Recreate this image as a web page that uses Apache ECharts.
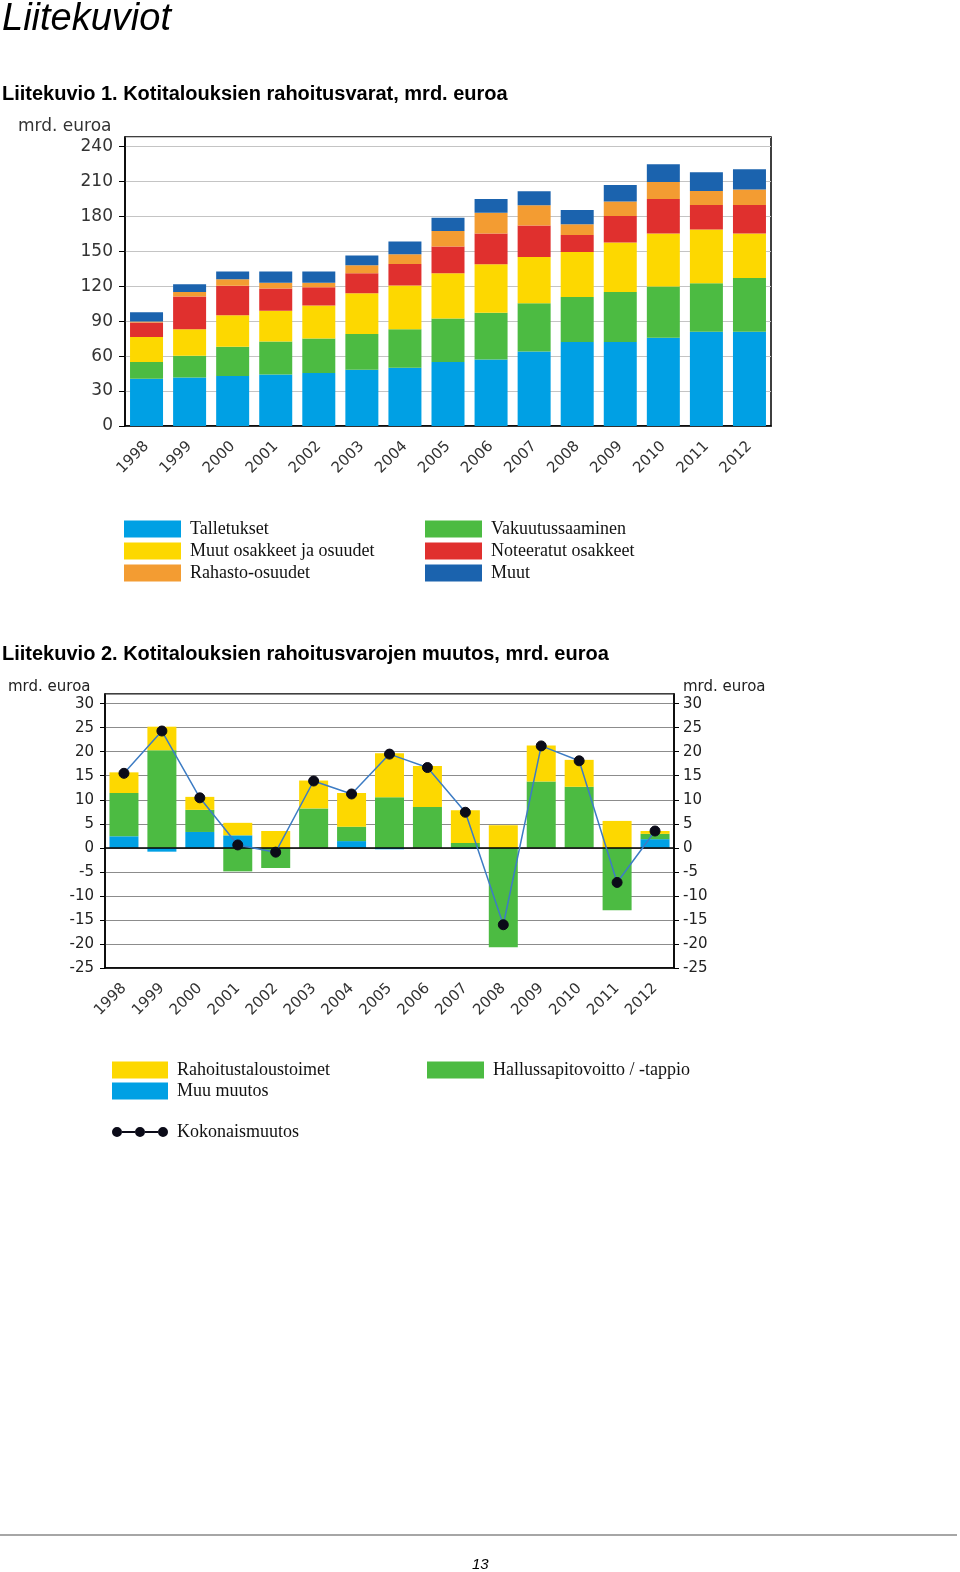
<!DOCTYPE html>
<html>
<head>
<meta charset="utf-8">
<script src="https://cdn.jsdelivr.net/npm/echarts@6/dist/echarts.min.js"></script>
<style>
html,body{margin:0;padding:0;background:#fff;}
#main{width:960px;height:1572px;}
</style>
</head>
<body>
<div id="main"></div>
<script>
// ---- Chart 1: Kotitalouksien rahoitusvarat, mrd. euroa ----
const years = ['1998','1999','2000','2001','2002','2003','2004','2005','2006','2007','2008','2009','2010','2011','2012'];
const talletukset   = [40.6, 41.7, 42.9, 44.3, 45.4, 48.3, 50.0, 54.9, 57.1, 64.0, 72.0, 72.0, 75.7, 80.9, 80.9];
const vakuutus      = [14.3, 18.6, 25.1, 28.3, 29.7, 30.6, 33.1, 37.4, 40.0, 41.4, 38.6, 42.9, 44.0, 41.7, 46.0];
const muutOsakkeet  = [21.4, 22.8, 27.1, 26.3, 28.3, 35.1, 37.5, 38.8, 41.8, 39.7, 38.8, 42.5, 45.4, 46.0, 38.2];
const noteeratut    = [12.6, 28.0, 25.2, 19.1, 15.7, 17.1, 18.5, 22.9, 26.2, 26.9, 14.6, 22.9, 29.8, 21.1, 24.6];
const rahasto       = [0.8, 3.8, 5.7, 4.9, 3.8, 6.9, 8.3, 13.4, 17.8, 17.4, 9.1, 12.3, 14.5, 12.0, 13.2];
const muut          = [8.0, 6.8, 6.6, 9.7, 9.7, 8.3, 10.9, 11.2, 12.0, 12.0, 12.3, 14.3, 15.2, 16.0, 17.4];

// ---- Chart 2: Kotitalouksien rahoitusvarojen muutos, mrd. euroa ----
const muuMuutos     = [2.4, -0.8, 3.3, 2.6, 0.0, 0.0, 1.4, -0.3, 0.0, -0.2, 0.0, 0.0, 0.0, 0.0, 1.8];
const hallussapito  = [9.0, 20.3, 4.6, -4.9, -4.2, 8.2, 3.0, 10.5, 8.5, 1.0, -20.7, 13.8, 12.7, -13.0, 1.1];
const rahoitustoimet= [4.3, 4.9, 2.7, 2.6, 3.5, 5.8, 7.0, 9.2, 8.5, 6.8, 4.7, 7.5, 5.6, 5.6, 0.6];
const kokonais      = [15.5, 24.3, 10.4, 0.6, -0.9, 13.9, 11.2, 19.5, 16.7, 7.4, -16.0, 21.2, 18.1, -7.2, 3.5];

const ticks1 = {min: 0, max: 248, interval: 30};
const ticks2 = {min: -25, max: 32, interval: 5};

const C = {
  blue: '#00a0e4', green: '#4cbb42', yellow: '#fdd800',
  red: '#e0302e', orange: '#f39c32', navy: '#1b63ae'
};

const axisFont = 'DejaVu Sans';
const legendFont = 'Liberation Serif';

const chart = echarts.init(document.getElementById('main'), null, {renderer: 'canvas'});

const bar1 = (name, data, color) => ({
  name, type: 'bar', data, stack: 'a', xAxisIndex: 0, yAxisIndex: 0,
  barWidth: 33, itemStyle: {color}, emphasis: {disabled: true}
});
const bar2 = (name, data, color) => ({
  name, type: 'bar', data, stack: 'b', xAxisIndex: 1, yAxisIndex: 1,
  barWidth: 29, itemStyle: {color}, emphasis: {disabled: true}
});

const legendText = {fontFamily: legendFont, fontSize: 18, color: '#111', lineHeight: 17, padding: [0,0,0,4]};

const lineIcon = 'path://M0,6 A5,5 0 1,0 10,6 A5,5 0 1,0 0,6 Z M10,5 L23,5 L23,7 L10,7 Z M23,6 A5,5 0 1,0 33,6 A5,5 0 1,0 23,6 Z M33,5 L46,5 L46,7 L33,7 Z M46,6 A5,5 0 1,0 56,6 A5,5 0 1,0 46,6 Z';

chart.setOption({
  animation: false,
  backgroundColor: '#fff',
  title: [
    {text: 'Liitekuviot', left: 2, top: 0, padding: 0,
     textStyle: {fontFamily: 'Liberation Sans', fontStyle: 'italic', fontWeight: 'normal', fontSize: 38, color: '#000'}},
    {text: 'Liitekuvio 1. Kotitalouksien rahoitusvarat, mrd. euroa', left: 2, top: 84, padding: 0,
     textStyle: {fontFamily: 'Liberation Sans', fontWeight: 'bold', fontSize: 20, color: '#000'}},
    {text: 'mrd. euroa', left: 18, top: 118, padding: 0,
     textStyle: {fontFamily: axisFont, fontWeight: 'normal', fontSize: 17, color: '#333'}},
    {text: 'Liitekuvio 2. Kotitalouksien rahoitusvarojen muutos, mrd. euroa', left: 2, top: 644, padding: 0,
     textStyle: {fontFamily: 'Liberation Sans', fontWeight: 'bold', fontSize: 20, color: '#000'}},
    {text: 'mrd. euroa', left: 8, top: 680, padding: 0,
     textStyle: {fontFamily: axisFont, fontWeight: 'normal', fontSize: 15, color: '#222'}},
    {text: 'mrd. euroa', left: 683, top: 680, padding: 0,
     textStyle: {fontFamily: axisFont, fontWeight: 'normal', fontSize: 15, color: '#222'}},
    {text: '13', left: 472, top: 1557, padding: 0,
     textStyle: {fontFamily: 'Liberation Sans', fontStyle: 'italic', fontWeight: 'normal', fontSize: 15, color: '#000'}}
  ],
  graphic: [
    {type: 'line', shape: {x1: 0, y1: 1535, x2: 957, y2: 1535}, style: {stroke: '#888', lineWidth: 1.5}}
  ],
  legend: [
    {left: 124, top: 520, orient: 'vertical', itemWidth: 57, itemHeight: 17, itemGap: 4, icon: 'rect',
     selectedMode: false, textStyle: legendText, padding: 0,
     data: ['Talletukset', 'Muut osakkeet ja osuudet', 'Rahasto-osuudet']},
    {left: 425, top: 520, orient: 'vertical', itemWidth: 57, itemHeight: 17, itemGap: 4, icon: 'rect',
     selectedMode: false, textStyle: legendText, padding: 0,
     data: ['Vakuutussaaminen', 'Noteeratut osakkeet', 'Muut']},
    {left: 112, top: 1061, orient: 'vertical', itemWidth: 56, itemHeight: 17, itemGap: 3, icon: 'rect',
     selectedMode: false, textStyle: legendText, padding: 0,
     data: ['Rahoitustaloustoimet', 'Muu muutos']},
    {left: 427, top: 1061, orient: 'vertical', itemWidth: 57, itemHeight: 17, itemGap: 3, icon: 'rect',
     selectedMode: false, textStyle: legendText, padding: 0,
     data: ['Hallussapitovoitto / -tappio']},
    {left: 112, top: 1123, orient: 'vertical', itemWidth: 56, itemHeight: 12, itemGap: 3,
     selectedMode: false, textStyle: legendText, padding: 0,
     data: [{name: 'Kokonaismuutos', icon: lineIcon}]}
  ],
  grid: [
    {left: 125, top: 137, width: 646, height: 289, show: true, borderColor: '#000', borderWidth: 1.5, backgroundColor: '#fff'},
    {left: 105, top: 694, width: 569, height: 274, show: true, borderColor: '#000', borderWidth: 1.5, backgroundColor: '#fff'}
  ],
  xAxis: [
    {type: 'category', gridIndex: 0, data: years, position: 'bottom',
     axisLine: {show: true, lineStyle: {color: '#000', width: 1.5}}, axisTick: {show: false},
     axisLabel: {rotate: 45, margin: 18, fontFamily: axisFont, fontSize: 15, color: '#333', interval: 0}},
    {type: 'category', gridIndex: 1, data: years, position: 'bottom',
     axisLine: {show: true, onZero: false, lineStyle: {color: '#000', width: 1.5}}, axisTick: {show: false},
     axisLabel: {rotate: 45, margin: 18, fontFamily: axisFont, fontSize: 15, color: '#333', interval: 0}},
    {type: 'category', gridIndex: 1, data: years, position: 'bottom',
     axisLine: {show: true, onZero: true, onZeroAxisIndex: 1, lineStyle: {color: '#000', width: 1.5}},
     axisTick: {show: false}, axisLabel: {show: false}, z: 5}
  ],
  yAxis: [
    {type: 'value', gridIndex: 0, min: ticks1.min, max: ticks1.max, interval: ticks1.interval,
     axisLine: {show: true, lineStyle: {color: '#000', width: 1.5}},
     axisTick: {show: true, length: 6, lineStyle: {color: '#000'}},
     axisLabel: {margin: 12, fontFamily: axisFont, fontSize: 17, color: '#333', showMaxLabel: false},
     splitLine: {show: true, lineStyle: {color: '#c4c4c4', width: 1}}},
    {type: 'value', gridIndex: 1, min: ticks2.min, max: ticks2.max, interval: ticks2.interval, position: 'left',
     axisLine: {show: true, lineStyle: {color: '#000', width: 1.5}},
     axisTick: {show: true, length: 5, lineStyle: {color: '#000'}},
     axisLabel: {margin: 11, fontFamily: axisFont, fontSize: 15, color: '#222', showMaxLabel: false},
     splitLine: {show: true, lineStyle: {color: '#8c8c8c', width: 1.2}}},
    {type: 'value', gridIndex: 1, min: ticks2.min, max: ticks2.max, interval: ticks2.interval, position: 'right',
     axisLine: {show: true, lineStyle: {color: '#000', width: 1.5}},
     axisTick: {show: true, length: 5, lineStyle: {color: '#000'}},
     axisLabel: {margin: 9, fontFamily: axisFont, fontSize: 15, color: '#222', showMaxLabel: false},
     splitLine: {show: false}}
  ],
  series: [
    bar1('Talletukset', talletukset, C.blue),
    bar1('Vakuutussaaminen', vakuutus, C.green),
    bar1('Muut osakkeet ja osuudet', muutOsakkeet, C.yellow),
    bar1('Noteeratut osakkeet', noteeratut, C.red),
    bar1('Rahasto-osuudet', rahasto, C.orange),
    bar1('Muut', muut, C.navy),
    bar2('Muu muutos', muuMuutos, C.blue),
    bar2('Hallussapitovoitto / -tappio', hallussapito, C.green),
    bar2('Rahoitustaloustoimet', rahoitustoimet, C.yellow),
    {name: 'Kokonaismuutos', type: 'line', data: kokonais, xAxisIndex: 1, yAxisIndex: 1,
     symbol: 'circle', symbolSize: 10, z: 10,
     lineStyle: {color: '#3d7cc4', width: 1.5},
     itemStyle: {color: '#0b0b18', borderColor: '#0b0b18'},
     emphasis: {disabled: true}}
  ]
});
</script>
</body>
</html>
